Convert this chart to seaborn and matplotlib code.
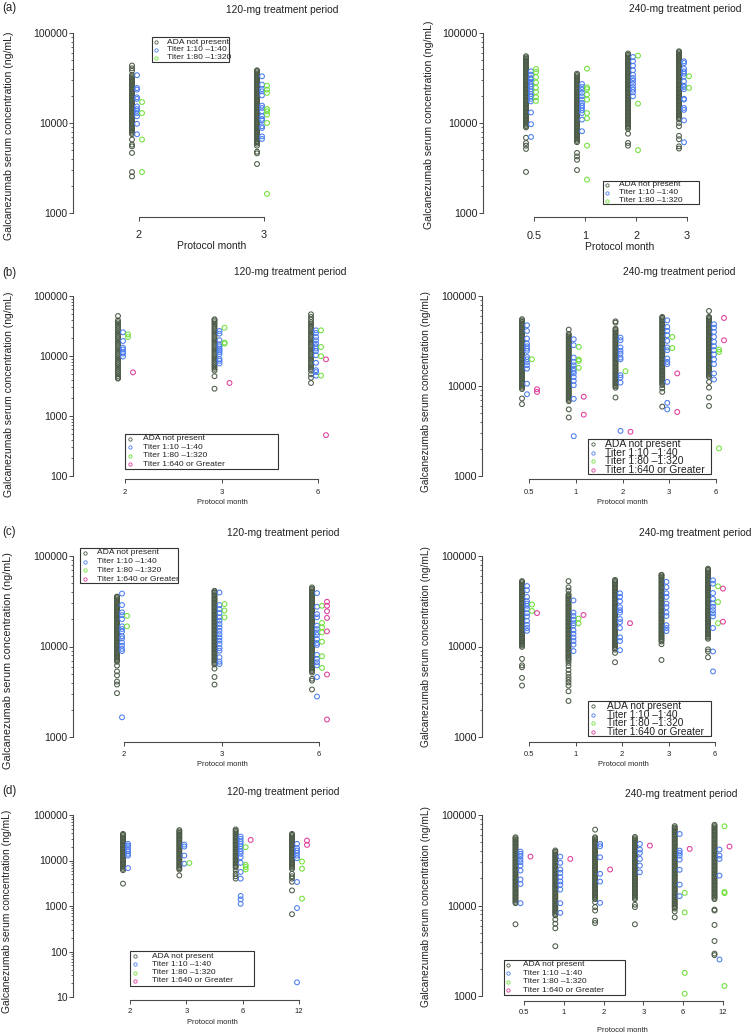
import numpy as np
import pandas as pd
import matplotlib
matplotlib.use('Agg')
import matplotlib.pyplot as plt
import seaborn as sns
from matplotlib.ticker import FixedLocator, NullLocator
from matplotlib.patches import Rectangle

# ---------------- data (ng/mL) ----------------
GROUPS = ['ADA not present', 'Titer 1:10 \u20131:40', 'Titer 1:80 \u20131:320', 'Titer 1:640 or Greater']

# (a) 120 mg
a120_months = ['2', '3']
a120_ada = [[2550, 2850, 4650, 5500, 5750, 6550,
             7520, 7780, 8050, 8340, 8630, 8930, 9240, 9570, 9900, 10250, 10600, 10970, 11360, 11760, 12170,
             12590, 13030, 13490, 13960, 14450, 14960, 15480, 16020, 16580, 17160, 17760, 18390, 19030, 19700,
             20390, 21100, 21840, 22600, 23390, 24210, 25060, 25940, 26840, 27780, 28760, 29760, 30800, 31880,
             33000, 34150, 38000, 40500, 43500],
            [3500, 4600, 4800, 5600, 5900,
             6120, 6330, 6550, 6780, 7020, 7270, 7520, 7780, 8050, 8340, 8630, 8930, 9240, 9570, 9900, 10250,
             10600, 10970, 11360, 11760, 12170, 12590, 13030, 13490, 13960, 14450, 14960, 15480, 16020, 16580,
             17160, 17760, 18390, 19030, 19700, 20390, 21100, 21840, 22600, 23390, 24210, 25060, 25940, 26840,
             27780, 28760, 29760, 30800, 31880, 33000, 34150, 35350, 36590, 37870, 38500]]
a120_t40 = [[7500, 9800, 11900, 12900, 13700, 14300, 15300, 18500, 19300, 23500, 24500, 34000],
            [6650, 7100, 8800, 9200, 10700, 11100, 11900, 13500, 14700, 15600, 20300, 22500, 23800, 26700, 33000]]
a120_t320 = [[2850, 6550, 12900, 17100],
             [1630, 10000, 12400, 13500, 14300, 21600, 23500, 26000]]

# (a) 240 mg
a240_months = ['0.5', '1', '2', '3']
a240_ada = [[2860, 5150, 5600, 6000, 6850,
             8930, 9240, 9570, 9900, 10250, 10600, 10970, 11360, 11760, 12170, 12590, 13030, 13490, 13960, 14450,
             14960, 15480, 16020, 16580, 17160, 17760, 18390, 19030, 19700, 20390, 21100, 21840, 22600, 23390,
             24210, 25060, 25940, 26840, 27780, 28760, 29760, 30800, 31880, 33000, 34150, 35350, 36590, 37870,
             39190, 40560, 41980, 43450, 44970, 46550, 48180, 49860, 51610, 53420, 55290],
            [3000, 3900, 4250, 4650,
             6120, 6330, 6550, 6780, 7020, 7270, 7520, 7780, 8050, 8340, 8630, 8930, 9240, 9570, 9900, 10250,
             10600, 10970, 11360, 11760, 12170, 12590, 13030, 13490, 13960, 14450, 14960, 15480, 16020, 16580,
             17160, 17760, 18390, 19030, 19700, 20390, 21100, 21840, 22600, 23390, 24210, 25060, 25940, 26840,
             27780, 28760, 29760, 30800, 31880, 33000, 34150, 35350],
            [5600, 6000, 7600,
             8630, 8930, 9240, 9570, 9900, 10250, 10600, 10970, 11360, 11760, 12170, 12590, 13030, 13490, 13960,
             14450, 14960, 15480, 16020, 16580, 17160, 17760, 18390, 19030, 19700, 20390, 21100, 21840, 22600,
             23390, 24210, 25060, 25940, 26840, 27780, 28760, 29760, 30800, 31880, 33000, 34150, 35350, 36590,
             37870, 39190, 40560, 41980, 43450, 44970, 46550, 48180, 49860, 51610, 53420, 55290, 57220, 59220],
            [5200, 5500, 6600, 7200, 9200, 10000,
             10970, 11360, 11760, 12170, 12590, 13030, 13490, 13960, 14450, 14960, 15480, 16020, 16580, 17160,
             17760, 18390, 19030, 19700, 20390, 21100, 21840, 22600, 23390, 24210, 25060, 25940, 26840, 27780,
             28760, 29760, 30800, 31880, 33000, 34150, 35350, 36590, 37870, 39190, 40560, 41980, 43450, 44970,
             46550, 48180, 49860, 51610, 53420, 55290, 57220, 59220, 61300, 62600]]
a240_t40 = [[7000, 9700, 13100, 17400, 18500, 19700, 21000, 22400, 23800, 25400, 27000, 28800, 30600, 31500, 34500, 37500],
            [8100, 10900, 12900, 13800, 14700, 15600, 16700, 18200, 19800, 21600, 23500, 25100, 27100],
            [19800, 22000, 23500, 25100, 27300, 29500, 31600, 34400, 38500, 43300, 48500, 54100],
            [6100, 10700, 14000, 14700, 18200, 18600, 23800, 25100, 26000, 29000, 33000, 35300, 37500, 40200, 46400, 48500]]
a240_t320 = [[17600, 19300, 22100, 24700, 28200, 32400, 36800, 39800],
             [2350, 5600, 11300, 12900, 18200, 20700, 23800, 24900, 40200],
             [5000, 16400, 56000],
             [24500, 33000]]

# (b) 120 mg
b120_months = ['2', '3', '6']
b120_ada = [[4200, 4340, 4650, 4980, 5330, 5710, 6120, 6550, 7020, 7520, 8050, 8630, 9240, 9900, 10600, 11360,
             12170, 13030, 13960, 14960, 16020, 17160, 18390, 19700, 21100, 22600, 24210, 25940, 27780, 29760,
             31880, 34150, 36590, 39190, 46400],
            [2850, 4600, 5710, 6120, 6550, 7020, 7520, 8050, 8630, 9240, 9900, 10600, 11360, 12170, 13030, 13960,
             14960, 16020, 17160, 18390, 19700, 21100, 22600, 24210, 25940, 27780, 29760, 31880, 34150, 36590,
             39190, 40900],
            [3550, 4350, 4950, 5710, 6120, 6550, 7020, 7520, 8050, 8630, 9240, 9900, 10600, 11360, 12170, 13030,
             13960, 14960, 16020, 17160, 18390, 19700, 21100, 22600, 24210, 25940, 27780, 29760, 31880, 34150,
             36590, 40400, 44700, 49500]]
b120_t40 = [[9800, 11000, 11600, 12800, 13800, 17800, 24800],
            [7500, 8300, 8900, 10700, 11600, 12400, 13300, 14500, 15600, 18300, 23600, 26100],
            [4700, 5400, 5800, 7700, 10300, 12100, 13300, 14500, 16100, 18300, 20700, 24200, 26800]]
b120_t320 = [[20700, 23000], [16100, 16700, 29600], [4700, 9900, 14100, 26800]]
b120_t640 = [[5340], [3550], [480, 8800]]

# (b) 240 mg
b240_months = ['0.5', '1', '2', '3', '6']
b240_ada = [[6280, 7270,
             9240, 9570, 9900, 10250, 10600, 10970, 11360, 11760, 12170, 12590, 13030, 13490, 13960, 14450, 14960,
             15480, 16020, 16580, 17160, 17760, 18390, 19030, 19700, 20390, 21100, 21840, 22600, 23390, 24210,
             25060, 25940, 26840, 27780, 28760, 29760, 30800, 31880, 33000, 34150, 35350, 36590, 37870, 39190,
             40560, 41980, 43450, 44970, 46550, 48180, 49860, 51610, 53420, 55290],
            [4470, 5500,
             6780, 7020, 7270, 7520, 7780, 8050, 8340, 8630, 8930, 9240, 9570, 9900, 10250, 10600, 10970, 11360,
             11760, 12170, 12590, 13030, 13490, 13960, 14450, 14960, 15480, 16020, 16580, 17160, 17760, 18390,
             19030, 19700, 20390, 21100, 21840, 22600, 23390, 24210, 25060, 25940, 26840, 27780, 28760, 29760,
             30800, 31880, 33000, 34150, 35350, 36590, 37870, 42300],
            [7450,
             9570, 9900, 10250, 10600, 10970, 11360, 11760, 12170, 12590, 13030, 13490, 13960, 14450, 14960, 15480,
             16020, 16580, 17160, 17760, 18390, 19030, 19700, 20390, 21100, 21840, 22600, 23390, 24210, 25060,
             25940, 26840, 27780, 28760, 29760, 30800, 31880, 33000, 34150, 35350, 36590, 37870, 39190, 40560,
             41980, 43450, 50600, 52300],
            [5900, 8600, 9400,
             10250, 10600, 10970, 11360, 11760, 12170, 12590, 13030, 13490, 13960, 14450, 14960, 15480, 16020,
             16580, 17160, 17760, 18390, 19030, 19700, 20390, 21100, 21840, 22600, 23390, 24210, 25060, 25940,
             26840, 27780, 28760, 29760, 30800, 31880, 33000, 34150, 35350, 36590, 37870, 39190, 40560, 41980,
             43450, 44970, 46550, 48180, 49860, 51610, 53420, 55290, 57220, 58500],
            [6000, 7450, 9600, 11100,
             12590, 13030, 13490, 13960, 14450, 14960, 15480, 16020, 16580, 17160, 17760, 18390, 19030, 19700,
             20390, 21100, 21840, 22600, 23390, 24210, 25060, 25940, 26840, 27780, 28760, 29760, 30800, 31880,
             33000, 34150, 35350, 36590, 37870, 39190, 40560, 41980, 43450, 44970, 46550, 48180, 49860, 51610,
             53420, 55290, 57220, 58500, 68200]]
b240_t40 = [[8100, 10600, 15600, 17000, 18500, 19800, 21000, 24600, 26000, 27600, 29600, 33700, 40900, 47300],
            [2770, 7200, 10200, 11400, 12600, 13800, 14700, 15600, 17000, 18500, 20700, 28400, 33100],
            [3170, 10900, 12400, 13200, 19800, 20700, 22900, 24600, 26800, 32200, 34500],
            [5500, 6500, 11100, 17500, 18500, 20200, 25000, 26800, 31700, 36600, 40900, 45300, 53700],
            [11800, 13800, 17500, 19800, 22400, 25000, 27600, 30900, 35100, 39900, 44500, 48500]]
b240_t320 = [[19800], [15900, 19000, 19700, 27200], [14600], [26400, 35100], [2030, 23900, 25400]]
b240_t640 = [[8600, 9200], [4800, 7600], [3100], [5150, 13800], [32200, 57000]]

# (c) 120 mg
c120_months = ['2', '3', '6']
c120_ada = [[3050, 3800, 4100, 4800, 5300, 6150,
             6780, 7020, 7270, 7520, 7780, 8050, 8340, 8630, 8930, 9240, 9570, 9900, 10250, 10600, 10970, 11360,
             11760, 12170, 12590, 13030, 13490, 13960, 14450, 14960, 15480, 16020, 16580, 17160, 17760, 18390,
             19030, 19700, 20390, 21100, 21840, 22600, 23390, 24210, 25060, 25940, 26840, 27780, 28760, 29760,
             30800, 31880, 33000, 34150, 35350, 35600],
            [3800, 4600, 5700,
             6330, 6550, 6780, 7020, 7270, 7520, 7780, 8050, 8340, 8630, 8930, 9240, 9570, 9900, 10250, 10600,
             10970, 11360, 11760, 12170, 12590, 13030, 13490, 13960, 14450, 14960, 15480, 16020, 16580, 17160,
             17760, 18390, 19030, 19700, 20390, 21100, 21840, 22600, 23390, 24210, 25060, 25940, 26840, 27780,
             28760, 29760, 30800, 31880, 33000, 34150, 35350, 36590, 37870, 39190, 40560, 41200],
            [3350, 4200, 4400,
             5150, 5330, 5520, 5710, 5910, 6120, 6330, 6550, 6780, 7020, 7270, 7520, 7780, 8050, 8340, 8630, 8930,
             9240, 9570, 9900, 10250, 10600, 10970, 11360, 11760, 12170, 12590, 13030, 13490, 13960, 14450, 14960,
             15480, 16020, 16580, 17160, 17760, 18390, 19030, 19700, 20390, 21100, 21840, 22600, 23390, 24210,
             25060, 25940, 26840, 27780, 28760, 29760, 30800, 31880, 33000, 34150, 35350, 36590, 37870, 39190,
             40560, 41980, 43450, 44970]]
c120_t40 = [[1650, 8900, 9400, 10200, 11100, 12300, 13000, 14600, 15600, 16700, 20100, 22200, 23800, 28700, 38500],
            [6400, 6800, 7600, 9000, 9600, 10700, 11600, 12600, 13700, 14900, 16200, 17700, 19300, 21000, 23400,
             25900, 28700, 39500],
            [2800, 4600, 6200, 6700, 7300, 8100, 10400, 10900, 12100, 13400, 14300, 15600, 17000, 21000, 22800,
             27500, 38900]]
c120_t320 = [[16700, 21800], [21000, 25000, 29400], [5800, 7800, 11300, 14300, 16300, 18200, 28200]]
c120_t640 = [[], [], [1560, 4900, 14700, 20700, 24500, 28200, 31200]]

# (c) 240 mg
c240_months = ['0.5', '1', '2', '3', '6']
c240_ada = [[3700, 4500, 5900, 6200, 7300,
             9900, 10250, 10600, 10970, 11360, 11760, 12170, 12590, 13030, 13490, 13960, 14450, 14960, 15480,
             16020, 16580, 17160, 17760, 18390, 19030, 19700, 20390, 21100, 21840, 22600, 23390, 24210, 25060,
             25940, 26840, 27780, 28760, 29760, 30800, 31880, 33000, 34150, 35350, 36590, 37870, 39190, 40560,
             41980, 43450, 44970, 46550, 48180, 49860, 51610, 52800],
            [2500, 3200, 3700, 4000, 4300, 4600, 5000, 5500, 6100, 6600,
             7020, 7270, 7520, 7780, 8050, 8340, 8630, 8930, 9240, 9570, 9900, 10250, 10600, 10970, 11360, 11760,
             12170, 12590, 13030, 13490, 13960, 14450, 14960, 15480, 16020, 16580, 17160, 17760, 18390, 19030,
             19700, 20390, 21100, 21840, 22600, 23390, 24210, 25060, 25940, 26840, 27780, 28760, 29760, 30800,
             31880, 33000, 34150, 35350, 36590, 37870, 41600, 45100, 52800],
            [6700, 8500,
             9240, 9570, 9900, 10250, 10600, 10970, 11360, 11760, 12170, 12590, 13030, 13490, 13960, 14450, 14960,
             15480, 16020, 16580, 17160, 17760, 18390, 19030, 19700, 20390, 21100, 21840, 22600, 23390, 24210,
             25060, 25940, 26840, 27780, 28760, 29760, 30800, 31880, 33000, 34150, 35350, 36590, 37870, 39190,
             40560, 41980, 43450, 44970, 46550, 48180, 49860, 51610, 53420, 54400],
            [7100, 10600,
             11360, 11760, 12170, 12590, 13030, 13490, 13960, 14450, 14960, 15480, 16020, 16580, 17160, 17760,
             18390, 19030, 19700, 20390, 21100, 21840, 22600, 23390, 24210, 25060, 25940, 26840, 27780, 28760,
             29760, 30800, 31880, 33000, 34150, 35350, 36590, 37870, 39190, 40560, 41980, 43450, 44970, 46550,
             48180, 49860, 51610, 53420, 55290, 57220, 59220, 61300, 62000],
            [7600, 8800, 9300,
             12170, 12590, 13030, 13490, 13960, 14450, 14960, 15480, 16020, 16580, 17160, 17760, 18390, 19030,
             19700, 20390, 21100, 21840, 22600, 23390, 24210, 25060, 25940, 26840, 27780, 28760, 29760, 30800,
             31880, 33000, 34150, 35350, 36590, 37870, 39190, 40560, 41980, 43450, 44970, 46550, 48180, 49860,
             51610, 53420, 55290, 57220, 59220, 61300, 63440, 65660, 67960, 70340, 72400]]
c240_t40 = [[14900, 16000, 17400, 19200, 21500, 23300, 26000, 28200, 29800, 31600, 35300, 41800, 46600],
            [8900, 10500, 11500, 12600, 13800, 15100, 17100, 18100, 19800, 21700, 23700, 32300],
            [9100, 11500, 12600, 16000, 18600, 20100, 23700, 25200, 27200, 31600, 35300, 38700],
            [14800, 16000, 17200, 21700, 23700, 27200, 29800, 35300, 38700, 45300, 51800],
            [5300, 8800, 16000, 21500, 23300, 25200, 27500, 29800, 33600, 39000, 49500, 53800]]
c240_t320 = [[24700, 29100], [18000, 20300], [], [], [18100, 31000, 46200]]
c240_t640 = [[23400], [22300], [18100], [], [18800, 43600]]

# (d) 120 mg
d120_months = ['2', '3', '6', '12']
d120_ada = [[3100,
             6120, 6550, 7020, 7520, 8050, 8630, 9240, 9900, 10600, 11360, 12170, 13030, 13960, 14960, 16020,
             17160, 18390, 19700, 21100, 22600, 24210, 25940, 27780, 29760, 31880, 34150, 36590, 38400],
            [4700,
             6330, 6780, 7270, 7780, 8340, 8930, 9570, 10250, 10970, 11760, 12590, 13490, 14450, 15480, 16580,
             17760, 19030, 20390, 21840, 23390, 25060, 26840, 28760, 30800, 33000, 35350, 37870, 40560, 43450,
             46550],
            [4000, 4500, 5100, 6000,
             7020, 7520, 8050, 8630, 9240, 9900, 10600, 11360, 12170, 13030, 13960, 14960, 16020, 17160, 18390,
             19700, 21100, 22600, 24210, 25940, 27780, 29760, 31880, 34150, 36590, 39190, 41980, 44970, 48180],
            [660, 2200, 3400, 4000, 4500, 5100,
             6550, 7020, 7520, 8050, 8630, 9240, 9900, 10600, 11360, 12170, 13030, 13960, 14960, 16020, 17160,
             18390, 19700, 21100, 22600, 24210, 25940, 27780, 29760, 31880, 34150, 36590, 38400]]
d120_t40 = [[6800, 12800, 14000, 15800, 17400, 19600, 21300, 23200],
            [8500, 12800, 20200, 22400],
            [1120, 1400, 1660, 4000, 5600, 8900, 11800, 14000, 15800, 18000, 20600, 23200, 26100, 29800, 33600],
            [21, 900, 3370, 11200, 12800, 14700, 16600, 18700, 23200]]
d120_t320 = [[], [8800], [6360, 7200, 8000, 19600], [1450, 6600, 9500]]
d120_t640 = [[], [], [28300], [22000, 27400]]

# (d) 240 mg
d240_months = ['0.5', '1', '2', '3', '6', '12']
d240_ada = [[6200,
             10600, 10970, 11360, 11760, 12170, 12590, 13030, 13490, 13960, 14450, 14960, 15480, 16020, 16580,
             17160, 17760, 18390, 19030, 19700, 20390, 21100, 21840, 22600, 23390, 24210, 25060, 25940, 26840,
             27780, 28760, 29760, 30800, 31880, 33000, 34150, 35350, 36590, 37870, 39190, 40560, 41980, 43450,
             44970, 46550, 48180, 49860, 51610, 53420, 55290, 56700],
            [3550, 5600, 6300, 7000,
             7780, 8050, 8340, 8630, 8930, 9240, 9570, 9900, 10250, 10600, 10970, 11360, 11760, 12170, 12590,
             13030, 13490, 13960, 14450, 14960, 15480, 16020, 16580, 17160, 17760, 18390, 19030, 19700, 20390,
             21100, 21840, 22600, 23390, 24210, 25060, 25940, 26840, 27780, 28760, 29760, 30800, 31880, 33000,
             34150, 35350, 36590, 37870, 39190, 40560],
            [6400, 6800, 8800, 9600, 10900,
             11760, 12170, 12590, 13030, 13490, 13960, 14450, 14960, 15480, 16020, 16580, 17160, 17760, 18390,
             19030, 19700, 20390, 21100, 21840, 22600, 23390, 24210, 25060, 25940, 26840, 27780, 28760, 29760,
             30800, 31880, 33000, 34150, 35350, 36590, 37870, 39190, 40560, 41980, 43450, 44970, 46550, 48180,
             49860, 51610, 53420, 55290, 56700, 68900],
            [6200, 9600, 10200,
             11760, 12170, 12590, 13030, 13490, 13960, 14450, 14960, 15480, 16020, 16580, 17160, 17760, 18390,
             19030, 19700, 20390, 21100, 21840, 22600, 23390, 24210, 25060, 25940, 26840, 27780, 28760, 29760,
             30800, 31880, 33000, 34150, 35350, 36590, 37870, 39190, 40560, 41980, 43450, 44970, 46550, 48180,
             49860, 51610, 53420, 55290, 57220],
            [7400, 8600,
             9240, 9570, 9900, 10250, 10600, 10970, 11360, 11760, 12170, 12590, 13030, 13490, 13960, 14450, 14960,
             15480, 16020, 16580, 17160, 17760, 18390, 19030, 19700, 20390, 21100, 21840, 22600, 23390, 24210,
             25060, 25940, 26840, 27780, 28760, 29760, 30800, 31880, 33000, 34150, 35350, 36590, 37870, 39190,
             40560, 41980, 43450, 44970, 46550, 48180, 49860, 51610, 53420, 55290, 57220, 59220, 61300, 63440,
             65660, 67960, 70340, 72800, 75350],
            [2830, 2940, 4050, 6100, 8800, 9000,
             11760, 12170, 12590, 13030, 13490, 13960, 14450, 14960, 15480, 16020, 16580, 17160, 17760, 18390,
             19030, 19700, 20390, 21100, 21840, 22600, 23390, 24210, 25060, 25940, 26840, 27780, 28760, 29760,
             30800, 31880, 33000, 34150, 35350, 36590, 37870, 39190, 40560, 41980, 43450, 44970, 46550, 48180,
             49860, 51610, 53420, 55290, 57220, 59220, 61300, 63440, 65660, 67960, 70340, 72800, 75350, 77990]]
d240_t40 = [[10600, 17300, 19400, 24300, 27600, 30100, 32200, 35000, 37200, 39400],
            [8300, 10600, 15000, 17000, 18400, 20500, 22900, 25000, 29600, 34700],
            [10700, 18400, 22400, 34100, 45200, 47900],
            [23300, 27600, 32700, 38100, 41500, 47900],
            [12700, 17000, 24800, 32200, 35600, 38100, 40400, 61700],
            [2530, 21400, 32700, 35600, 41500]]
d240_t320 = [[], [], [], [], [1060, 1800, 8400, 13800], [1290, 13700, 14100, 75000]]
d240_t640 = [[34700], [32700], [25000], [45900], [42200], [44800]]

# ---------------- style ----------------
W, H = 752, 1036
PALETTE = {GROUPS[0]: '#4b5a46', GROUPS[1]: '#4a7cf0', GROUPS[2]: '#70e03a', GROUPS[3]: '#de3c9c'}
OFFSET_PX = {GROUPS[0]: -7, GROUPS[1]: -2, GROUPS[2]: 3, GROUPS[3]: 8}
AXIS_COL = '#4a4a4a'
PT = 72 / 100  # points per pixel

sns.set_theme(style='ticks')
plt.rcParams['font.family'] = ['Liberation Sans', 'DejaVu Sans']

panels = [
    dict(months=a120_months, series=[a120_ada, a120_t40, a120_t320], yx=73, ytop=33, ybot=213, low=3, xline=217,
         ticks=[139, 264], xty=234, xtfs=7.8, ytfs=7.5, shift=0,
         title=(282, 10), letter='(a)', lety=8, ylab=(9, 136, 7.6), xlab=(212, 246, 7.5),
         leg=dict(box=(152, 37, 229, 62), rows=[42, 49.5, 57.5], mx=156, tx=167, fs=6.1)),
    dict(months=a240_months, series=[a240_ada, a240_t40, a240_t320], yx=483, ytop=33, ybot=213, low=3, xline=217,
         ticks=[534, 585, 636, 687], xty=235, xtfs=7.8, ytfs=7.7, shift=-1,
         title=(685, 9), letter=None, ylab=(429, 125, 7.6), xlab=(620, 247, 7.5),
         leg=dict(box=(603, 181, 699, 204), rows=[184.5, 192.5, 200.5], mx=607, tx=619, fs=6.0)),
    dict(months=b120_months, series=[b120_ada, b120_t40, b120_t320, b120_t640], yx=73, ytop=296, ybot=476, low=2,
         xline=479, ticks=[125, 221, 318], xty=492, xtfs=5.5, ytfs=7.5, shift=0,
         title=(290, 272), letter='(b)', lety=273, ylab=(9, 394, 7.5), xlab=(222, 503, 5.4),
         leg=dict(box=(125, 434, 278, 469), rows=[439, 447.3, 455.7, 464], mx=130, tx=143, fs=6.1)),
    dict(months=b240_months, series=[b240_ada, b240_t40, b240_t320, b240_t640], yx=482, ytop=296, ybot=476, low=3,
         xline=479, ticks=[529, 576, 622, 669, 716], xty=492, xtfs=5.5, ytfs=7.7, shift=0,
         title=(679, 272), letter=None, ylab=(426, 392, 7.3), xlab=(622, 503, 5.4),
         leg=dict(box=(588, 439, 711, 474), rows=[444.3, 452.7, 461, 469.7], mx=593, tx=605, fs=7.5)),
    dict(months=c120_months, series=[c120_ada, c120_t40, c120_t320, c120_t640], yx=73, ytop=556, ybot=737, low=3,
         xline=742, ticks=[124, 223, 319], xty=754, xtfs=5.5, ytfs=7.5, shift=0,
         title=(283, 533), letter='(c)', lety=532, ylab=(8, 661, 7.8), xlab=(222, 764, 5.4),
         leg=dict(box=(80, 548, 178, 583), rows=[552.7, 561.7, 570.3, 579.3], mx=85, tx=97, fs=6.1)),
    dict(months=c240_months, series=[c240_ada, c240_t40, c240_t320, c240_t640], yx=482, ytop=556, ybot=737, low=3,
         xline=742, ticks=[529, 576, 623, 669, 715], xty=754, xtfs=5.5, ytfs=7.7, shift=0,
         title=(695, 533), letter=None, ylab=(426, 647, 7.3), xlab=(623, 764, 5.4),
         leg=dict(box=(588, 701, 711, 736), rows=[706, 715, 723.3, 731.7], mx=593, tx=607, fs=7.3)),
    dict(months=d120_months, series=[d120_ada, d120_t40, d120_t320, d120_t640], yx=73, ytop=815, ybot=997, low=1,
         xline=1000, ticks=[130, 185, 242, 299], xty=1011, xtfs=5.5, ytfs=7.5, shift=0,
         title=(283, 792), letter='(d)', lety=791, ylab=(7, 911, 7.4), xlab=(212, 1023, 5.4),
         leg=dict(box=(130, 951, 254, 986), rows=[956, 964.3, 972.7, 981], mx=135, tx=152, fs=6.0)),
    dict(months=d240_months, series=[d240_ada, d240_t40, d240_t320, d240_t640], yx=482, ytop=815, ybot=996, low=3,
         xline=1001, ticks=[524, 563, 602, 641, 682, 723], xty=1012, xtfs=5.5, ytfs=7.7, shift=-1.5,
         title=(681, 794), letter=None, ylab=(426, 907, 7.3), xlab=(622, 1031, 5.4),
         leg=dict(box=(504, 960, 625, 995), rows=[965, 973.3, 981.7, 990], mx=508, tx=523, fs=6.0)),
]

fig = plt.figure(figsize=(W / 100, H / 100), dpi=100)
fig.patch.set_facecolor('white')

# overlay axes in pixel coordinates for texts and legends
ov = fig.add_axes([0, 0, 1, 1], zorder=10)
ov.set_xlim(0, W)
ov.set_ylim(H, 0)
ov.axis('off')


def draw_panel(p):
    months = p['months']
    n = len(months)
    ticks = p['ticks']
    t0 = ticks[0]
    step = (ticks[-1] - ticks[0]) / (n - 1)
    left, right = p['yx'], ticks[-1] + 25
    top, bottom = p['ytop'], p['xline']
    ax = fig.add_axes([left / W, 1 - bottom / H, (right - left) / W, (bottom - top) / H])
    ax.patch.set_alpha(0)

    groups = GROUPS[:len(p['series'])]
    rows = []
    for g, series in zip(groups, p['series']):
        for i, vals in enumerate(series):
            for v in vals:
                rows.append((i, g, v))
    df = pd.DataFrame(rows, columns=['month', 'group', 'conc'])
    df['xpos'] = df['month'] + (df['group'].map(OFFSET_PX) + p['shift']) / step

    sns.scatterplot(data=df, x='xpos', y='conc', hue='group', hue_order=groups, palette=PALETTE,
                    s=12, linewidth=0.75, legend=False, ax=ax, clip_on=False)
    coll = ax.collections[-1]
    coll.set_edgecolors(coll.get_facecolors())
    coll.set_facecolors('none')

    ax.set_yscale('log')
    ax.set_xlim((left - t0) / step, (right - t0) / step)
    per_px = (5 - p['low']) / (p['ybot'] - top)
    ax.set_ylim(10 ** (p['low'] - (bottom - p['ybot']) * per_px), 1e5)
    ax.set_xlabel('')
    ax.set_ylabel('')

    for s in ['top', 'right']:
        ax.spines[s].set_visible(False)
    for s in ['left', 'bottom']:
        ax.spines[s].set_color(AXIS_COL)
        ax.spines[s].set_linewidth(0.8)
    ax.spines['left'].set_bounds(10 ** p['low'], 1e5)
    ax.spines['bottom'].set_bounds(0, n - 1)

    majors = [10 ** k for k in range(p['low'], 6)]
    minors = [m * 10 ** k for k in range(p['low'], 5) for m in range(2, 10)]
    ax.yaxis.set_major_locator(FixedLocator(majors))
    ax.yaxis.set_minor_locator(FixedLocator(minors))
    ax.set_yticklabels([str(v) for v in majors])
    ax.set_xticks(range(n))
    ax.set_xticklabels(months)
    ax.xaxis.set_minor_locator(NullLocator())

    ax.tick_params(axis='y', which='major', left=True, length=4 * PT, width=0.7, color=AXIS_COL,
                   pad=1, labelsize=p['ytfs'], labelcolor='#222222')
    ax.tick_params(axis='y', which='minor', left=True, length=2 * PT, width=0.6, color=AXIS_COL)
    em = p['xtfs'] / PT
    pad_px = p['xty'] - 0.36 * em - bottom - 4
    ax.tick_params(axis='x', which='major', bottom=True, length=4 * PT, width=0.7, color=AXIS_COL,
                   pad=pad_px * PT, labelsize=p['xtfs'], labelcolor='#222222')
    ax.grid(False)

    # texts
    tx, ty = p['title']
    ov.text(tx, ty, '120-mg treatment period' if p['yx'] < 300 else '240-mg treatment period',
            fontsize=7.4, ha='center', va='center', color='#222222')
    if p['letter']:
        ov.text(2, p['lety'], p['letter'], fontsize=8.3, ha='left', va='center', color='#222222')
    lx, ly, lfs = p['ylab']
    ov.text(lx, ly, 'Galcanezumab serum concentration (ng/mL)', fontsize=lfs, rotation=90,
            ha='center', va='center', color='#222222')
    xx, xy, xfs = p['xlab']
    ov.text(xx, xy, 'Protocol month', fontsize=xfs, ha='center', va='center', color='#222222')

    # legend box in the R style
    lg = p['leg']
    x0, y0, x1, y1 = lg['box']
    ov.add_patch(Rectangle((x0, y0), x1 - x0, y1 - y0, fill=True, facecolor='white',
                           edgecolor='#333333', linewidth=0.8))
    for g, ry in zip(groups, lg['rows']):
        ov.plot([lg['mx']], [ry], 'o', ms=2.4, mfc='none', mec=PALETTE[g], mew=0.6)
        ov.text(lg['tx'], ry, g, fontsize=lg['fs'], ha='left', va='center', color='#222222')


for p in panels:
    draw_panel(p)

fig.savefig('out.png', dpi=100, facecolor='white')
